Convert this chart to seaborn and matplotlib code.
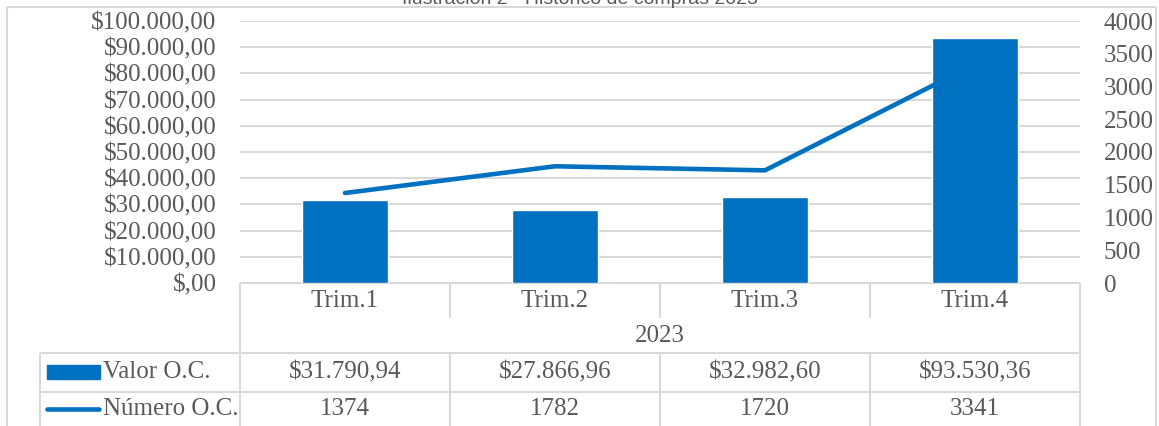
import matplotlib
matplotlib.use("Agg")
import matplotlib.pyplot as plt
import seaborn as sns
import pandas as pd
from matplotlib.patches import Rectangle
from matplotlib.ticker import FuncFormatter, MultipleLocator

W, H = 1159, 426

title = "Ilustración 2 - Histórico de compras 2023"
year = "2023"
quarters = ["Trim.1", "Trim.2", "Trim.3", "Trim.4"]
valor_oc = [31790.94, 27866.96, 32982.60, 93530.36]
numero_oc = [1374, 1782, 1720, 3341]
series_names = ["Valor O.C.", "Número O.C."]

BLUE = "#0070C0"
GRID = "#D9D9D9"
TEXT = "#595959"
FS = 18

sns.set_theme(style="white")
plt.rcParams["font.family"] = ["Liberation Serif", "DejaVu Serif"]


def money(v):
    if v == 0:
        return "$,00"
    s = f"{v:,.2f}".replace(",", "X").replace(".", ",").replace("X", ".")
    return "$" + s


df = pd.DataFrame({"quarter": quarters, "valor": valor_oc, "numero": numero_oc})

fig = plt.figure(figsize=(W / 100, H / 100), dpi=100)
ax = fig.add_axes([240 / W, 1 - 283 / H, 840 / W, 262 / H])

sns.barplot(data=df, x="quarter", y="valor", color=BLUE, saturation=1,
            width=0.405, ax=ax, zorder=3)
ax.set_ylim(0, 100000)
ax.yaxis.set_major_locator(MultipleLocator(10000))
ax.yaxis.set_major_formatter(FuncFormatter(lambda v, p: money(v)))
ax.grid(axis="y", color=GRID, linewidth=1.5, zorder=0)
ax.set_axisbelow(True)
ax.set_xlabel("")
ax.set_ylabel("")
ax.set_xticks([])
ax.set_xlim(-0.5, 3.5)
for s in ax.spines.values():
    s.set_visible(False)
ax.tick_params(axis="y", length=0, pad=17, labelsize=FS, labelcolor=TEXT)

ax2 = ax.twinx()
sns.lineplot(data=df, x="quarter", y="numero", sort=False, color=BLUE,
             linewidth=3.3, ax=ax2, solid_capstyle="round", zorder=4)
ax2.set_ylim(0, 4000)
ax2.set_xlim(-0.5, 3.5)
ax2.yaxis.set_major_locator(MultipleLocator(500))
ax2.set_ylabel("")
ax2.set_xlabel("")
ax2.set_xticks([])
for s in ax2.spines.values():
    s.set_visible(False)
ax2.tick_params(axis="y", length=0, pad=17, labelsize=FS, labelcolor=TEXT)

# overlay in pixel coordinates for the data table and frame
ov = fig.add_axes([0, 0, 1, 1], zorder=-1)
ov.set_xlim(0, W)
ov.set_ylim(H, 0)
ov.axis("off")
ov.patch.set_alpha(0)

def hline(y, x0, x1):
    ov.plot([x0, x1], [y, y], color=GRID, linewidth=1.5, solid_capstyle="butt")

def vline(x, y0, y1):
    ov.plot([x, x], [y0, y1], color=GRID, linewidth=1.5, solid_capstyle="butt")

# outer frame
hline(7, 7, 1156)
vline(7, 7, H)
vline(1156, 7, H)

cols = [240 + 210 * i for i in range(5)]
hline(283, 240, 1080)
vline(240, 283, H)
vline(1080, 283, H)
for x in cols[1:-1]:
    vline(x, 283, 318)
    vline(x, 353, H)
hline(353, 40, 1080)
hline(392, 40, 1080)
vline(40, 353, H)

for i, q in enumerate(quarters):
    cx = (cols[i] + cols[i + 1]) / 2
    ov.text(cx, 301, q, ha="center", va="center", fontsize=FS, color=TEXT)
    ov.text(cx, 372, money(valor_oc[i]), ha="center", va="center",
            fontsize=FS, color=TEXT)
    ov.text(cx, 409, str(numero_oc[i]), ha="center", va="center",
            fontsize=FS, color=TEXT)
ov.text(660, 336, year, ha="center", va="center", fontsize=FS, color=TEXT)

ov.add_patch(Rectangle((47, 365), 53, 14, color=BLUE))
ov.plot([47, 99], [409, 409], color=BLUE, linewidth=3.3, solid_capstyle="round")
ov.text(103, 372, series_names[0], ha="left", va="center", fontsize=FS, color=TEXT)
ov.text(103, 409, series_names[1], ha="left", va="center", fontsize=FS, color=TEXT)

# title sits mostly above the visible area, as in the reference crop
fig.text(0.5, 1 - 4.5 / H, title, ha="center", va="baseline", fontsize=14,
         color=TEXT, family=["Liberation Sans", "DejaVu Sans"])

fig.savefig("out.png", dpi=100)
